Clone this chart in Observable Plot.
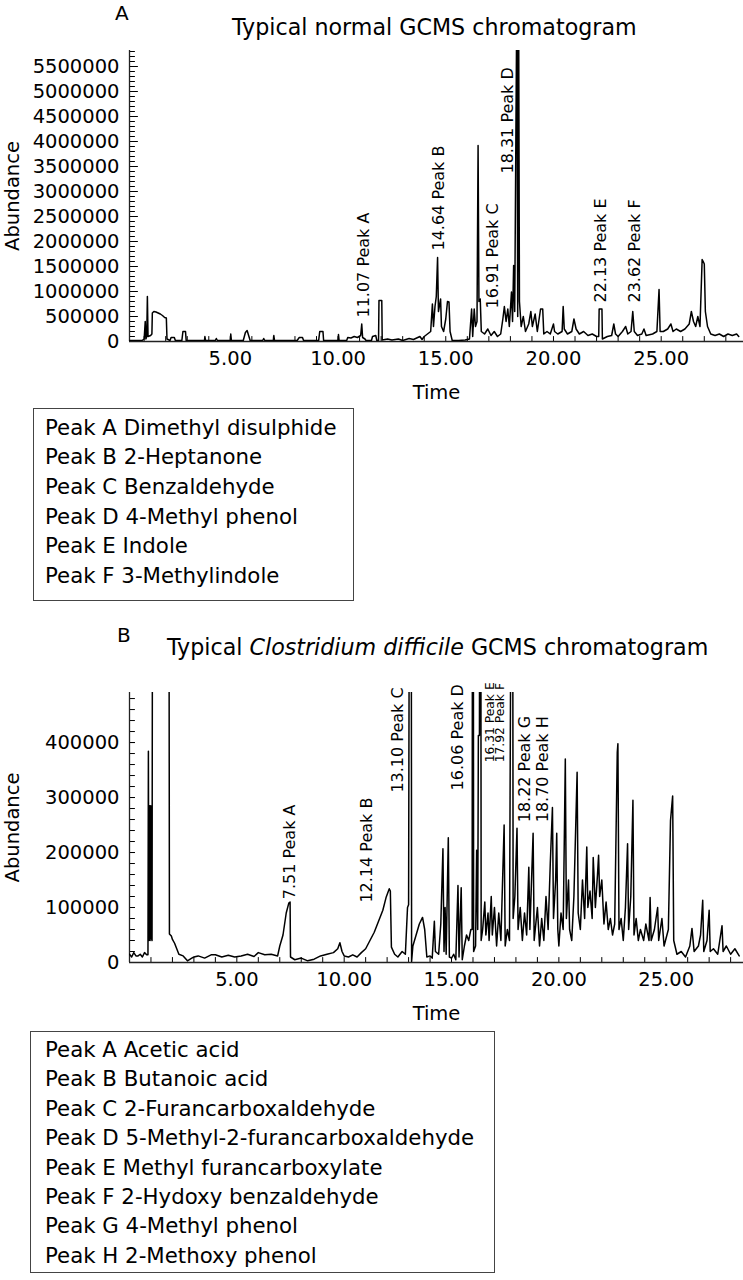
<!DOCTYPE html>
<html><head><meta charset="utf-8">
<script src="https://cdn.jsdelivr.net/npm/d3@7"></script>
<script src="https://cdn.jsdelivr.net/npm/@observablehq/plot@0.6"></script>
<style>
body{margin:0;background:#fff;font-family:"DejaVu Sans",sans-serif;color:#000}
#page{position:relative;width:743px;height:1280px;overflow:hidden}
.abs{position:absolute;white-space:nowrap;line-height:1}
.panel{font-size:20px}
.title{font-size:22.2px}
.legend{position:absolute;border:1.5px solid #444;box-sizing:border-box;font-size:21.3px}
svg{position:absolute;left:0}
</style></head>
<body><div id="page">
<div class="abs panel" style="left:115px;top:3px">A</div>
<div class="abs title" style="left:232px;top:16px">Typical normal GCMS chromatogram</div>
<div id="chartA"></div>
<div class="legend" id="legA" style="left:33px;top:408px;width:321px;height:193px;padding:3.5px 0 0 11px;line-height:29.7px"></div>
<div class="abs panel" style="left:117px;top:625px">B</div>
<div class="abs title" style="left:167px;top:636px">Typical <i>Clostridium difficile</i> GCMS chromatogram</div>
<div id="chartB"></div>
<div class="legend" id="legB" style="left:30px;top:1031px;width:465px;height:242px;padding:3px 0 0 14px;line-height:29.4px"></div>
</div>
<script>
// ---------- Chart A: typical normal GCMS chromatogram ----------
const timeA = [
 0.34,0.9,1.0,1.05,1.08,1.12,1.15,1.18,1.3,1.36,
 1.38,1.45,1.55,1.65,1.75,1.85,1.95,2.03,2.06,2.2,
 2.25,2.4,2.45,2.75,2.8,2.92,2.95,3.8,3.82,3.85,
 4.3,4.35,4.4,5.0,5.02,5.05,5.6,5.7,5.78,5.85,
 5.92,6.5,6.55,6.6,7.0,7.02,7.05,8.1,8.2,8.35,
 8.4,9.1,9.15,9.3,9.33,10.0,10.02,10.05,10.4,10.45,
 10.6,10.75,10.9,11.05,11.1,11.14,11.25,11.3,11.55,11.6,
 11.75,11.8,11.88,11.9,12.03,12.05,12.3,12.5,12.8,13.0,
 13.3,13.5,13.7,13.8,13.9,14.0,14.15,14.3,14.38,14.43,
 14.5,14.56,14.62,14.66,14.76,14.8,14.9,15.0,15.08,15.15,
 15.2,15.3,15.6,15.9,16.1,16.2,16.25,16.32,16.38,16.45,
 16.5,16.54,16.6,16.65,16.8,16.95,17.1,17.25,17.4,17.55,
 17.65,17.72,17.8,17.88,17.95,18.05,18.1,18.15,18.2,18.3,
 18.34,18.38,18.42,18.5,18.6,18.7,18.85,18.95,19.02,19.15,
 19.25,19.4,19.5,19.55,19.7,19.85,20.0,20.05,20.2,20.4,
 20.45,20.5,20.65,20.85,20.95,21.05,21.2,21.4,21.6,21.8,
 22.0,22.1,22.12,22.25,22.27,22.5,22.7,22.8,22.88,23.0,
 23.2,23.35,23.45,23.6,23.68,23.75,23.9,24.1,24.2,24.3,
 24.6,24.8,24.9,24.95,25.1,25.3,25.45,25.55,25.7,25.9,
 26.1,26.3,26.4,26.5,26.6,26.7,26.8,26.9,26.95,27.0,
 27.05,27.15,27.3,27.5,27.7,27.9,28.1,28.3,28.5,28.6
];
const abundanceA = [
 20000,20000,50000,400000,50000,100000,900000,100000,120000,150000,
 570000,600000,590000,570000,550000,520000,480000,470000,50000,20000,
 80000,80000,20000,20000,200000,200000,20000,20000,100000,20000,
 20000,60000,20000,20000,150000,20000,20000,180000,220000,120000,
 20000,20000,60000,20000,20000,120000,20000,20000,80000,80000,
 20000,20000,200000,200000,20000,20000,140000,20000,20000,80000,
 70000,100000,80000,120000,350000,80000,50000,20000,20000,100000,
 120000,20000,20000,820000,820000,30000,50000,30000,50000,20000,
 60000,40000,80000,100000,40000,100000,150000,200000,750000,300000,
 700000,900000,1680000,600000,850000,300000,200000,450000,800000,790000,
 200000,20000,20000,30000,50000,650000,100000,650000,300000,400000,
 3920000,800000,850000,200000,150000,250000,120000,200000,100000,150000,
 450000,700000,400000,650000,300000,990000,400000,1520000,600000,7000000,
 500000,7000000,800000,300000,500000,200000,350000,600000,300000,550000,
 200000,650000,650000,150000,200000,150000,350000,200000,150000,200000,
 700000,250000,150000,200000,450000,250000,150000,200000,120000,150000,
 100000,100000,650000,650000,50000,100000,120000,350000,150000,100000,
 200000,300000,150000,200000,600000,200000,120000,150000,250000,120000,
 150000,200000,1040000,200000,200000,250000,350000,200000,250000,200000,
 250000,350000,600000,400000,300000,500000,300000,1640000,1600000,1550000,
 600000,300000,150000,120000,150000,100000,150000,120000,150000,100000
];
const peakLabelsA = ["11.07 Peak A","14.64 Peak B","16.91 Peak C","18.31 Peak D","22.13 Peak E","23.62 Peak F"];
const peakLabelTimeA = [11.18,14.66,17.17,17.87,22.18,23.8];
const peakLabelLevelA = [480000,1820000,660000,3360000,780000,780000];
const legendA = ["Peak A Dimethyl disulphide","Peak B 2-Heptanone","Peak C Benzaldehyde","Peak D 4-Methyl phenol","Peak E Indole","Peak F 3-Methylindole"];
const xDomainA = [0.32, 28.82];
const yDomainA = [0, 5820000];
const yTickLabelsA = [0,500000,1000000,1500000,2000000,2500000,3000000,3500000,4000000,4500000,5000000,5500000];

// ---------- Chart B: typical Clostridium difficile GCMS chromatogram ----------
const timeB = [
 0.0,0.1,0.2,0.3,0.4,0.5,0.6,0.7,0.8,0.86,
 0.88,0.9,0.93,0.96,0.99,1.02,1.05,1.07,1.84,1.86,
 1.95,2.0,2.1,2.2,2.3,2.5,2.7,2.9,3.0,3.2,
 3.5,3.8,4.0,4.3,4.6,4.9,5.2,5.5,5.8,6.0,
 6.3,6.6,6.9,7.0,7.15,7.3,7.42,7.48,7.5,7.7,
 8.0,8.3,8.6,8.9,9.2,9.5,9.7,9.8,9.9,10.0,
 10.2,10.4,10.6,10.8,11.0,11.2,11.4,11.6,11.8,11.95,
 12.1,12.15,12.2,12.35,12.5,12.7,12.85,12.95,13.0,13.05,
 13.12,13.14,13.2,13.35,13.5,13.65,13.75,13.85,14.0,14.1,
 14.2,14.25,14.4,14.5,14.6,14.65,14.7,14.75,14.85,14.9,
 15.0,15.1,15.2,15.3,15.35,15.45,15.5,15.6,15.7,15.8,
 15.9,15.96,15.98,16.01,16.03,16.12,16.17,16.22,16.25,16.3,
 16.32,16.36,16.38,16.45,16.55,16.6,16.7,16.75,16.85,16.9,
 17.0,17.1,17.2,17.3,17.45,17.5,17.6,17.7,17.8,17.84,
 17.87,17.95,18.05,18.1,18.2,18.3,18.4,18.5,18.6,18.65,
 18.8,18.85,19.0,19.1,19.2,19.3,19.4,19.5,19.6,19.7,
 19.75,19.85,19.9,19.95,20.0,20.1,20.2,20.3,20.35,20.45,
 20.5,20.6,20.7,20.85,20.9,21.0,21.1,21.2,21.3,21.35,
 21.45,21.55,21.6,21.7,21.8,21.85,21.9,22.0,22.1,22.2,
 22.3,22.4,22.5,22.6,22.72,22.75,22.8,22.9,23.0,23.1,
 23.2,23.25,23.35,23.45,23.5,23.6,23.7,23.8,23.95,24.05,
 24.2,24.25,24.3,24.45,24.6,24.65,24.8,24.9,25.1,25.2,
 25.3,25.35,25.5,25.7,25.9,26.1,26.2,26.3,26.5,26.6,
 26.7,26.75,26.9,27.0,27.05,27.2,27.4,27.6,27.65,27.8,
 28.0,28.2,28.4
];
const abundanceB = [
 15000,10000,18000,12000,12000,15000,10000,18000,14000,14000,
 384000,40000,285000,40000,285000,45000,40000,700000,700000,52000,
 48000,42000,35000,25000,15000,12000,3000,8000,10000,12000,
 8000,14000,14000,10000,13000,10000,12000,15000,11000,18000,
 14000,15000,12000,30000,50000,90000,108000,110000,10000,5000,
 8000,3000,6000,12000,15000,18000,25000,36000,20000,12000,
 10000,14000,10000,18000,25000,40000,55000,75000,95000,118000,
 134000,130000,28000,15000,10000,20000,15000,100000,105000,1000000,
 1000000,2000,30000,50000,70000,82000,60000,10000,12000,8000,
 75000,20000,15000,70000,207000,20000,100000,15000,227000,10000,
 8000,15000,5000,140000,10000,136000,5000,30000,50000,40000,
 60000,60000,1000000,1000000,20000,30000,204000,60000,413000,413000,
 1000000,1000000,40000,60000,110000,50000,90000,40000,120000,50000,
 100000,30000,90000,40000,250000,30000,60000,40000,1000000,1000000,
 80000,120000,244000,60000,100000,40000,90000,50000,173000,60000,
 235000,40000,100000,30000,80000,40000,120000,60000,180000,282000,
 80000,150000,235000,60000,30000,90000,60000,370000,80000,150000,
 60000,40000,120000,346000,90000,60000,150000,80000,210000,100000,
 130000,80000,191000,100000,160000,195000,120000,150000,70000,110000,
 60000,80000,50000,70000,382000,398000,60000,80000,40000,100000,
 216000,60000,120000,295000,50000,80000,40000,60000,40000,70000,
 40000,118000,40000,60000,100000,40000,80000,30000,60000,258000,
 303000,40000,15000,20000,10000,30000,62000,20000,30000,50000,
 113000,20000,40000,95000,20000,25000,15000,67000,20000,30000,
 15000,25000,12000
];
const peakLabelsB = ["7.51 Peak A","12.14 Peak B","13.10 Peak C","16.06 Peak D","18.22 Peak G","18.70 Peak H"];
const peakLabelTimeB = [7.47,11.04,12.5,15.3,18.43,19.27];
const peakLabelLevelB = [115000,109000,309000,313000,255000,255000];
const smallLabelsB = ["16.31 Peak E","17.92 Peak F"];
const smallLabelTimeB = [16.8,17.26];
const smallLabelLevelB = [364000,364000];
const legendB = ["Peak A Acetic acid","Peak B Butanoic acid","Peak C 2-Furancarboxaldehyde","Peak D 5-Methyl-2-furancarboxaldehyde","Peak E Methyl furancarboxylate","Peak F 2-Hydoxy benzaldehyde","Peak G 4-Methyl phenol","Peak H 2-Methoxy phenol"];
const xDomainB = [0, 28.6];
const yDomainB = [0, 491000];
const yTickLabelsB = [0,100000,200000,300000,400000];

const xTickLabels = [5,10,15,20,25];

// a tick glyph for Plot.vector: a straight stroke from the anchor point
const tickShape = {draw(context, l) { context.moveTo(0, 0); context.lineTo(0, -l); }};

function chromatogram({times, values, xDomain, yDomain, yMajor, yMinorStep, yMajorTick, labels, small, height, marginTop, marginBottom}) {
  const series = times.map((t, i) => ({t, v: values[i]}));
  const xMinor = d3.range(Math.ceil(xDomain[0]), xDomain[1], 1);
  const yMinor = d3.range(0, yDomain[1], yMinorStep);
  const font = "'DejaVu Sans', sans-serif";
  const marks = [
    Plot.axisX({ticks: xTickLabels, tickSize: 0, tickPadding: 10, tickFormat: d => d.toFixed(2), fontSize: 19.5, fontFamily: font,
      label: "Time", labelAnchor: "center", labelOffset: 57, labelArrow: false}),
    Plot.axisY({ticks: yMajor, tickSize: 0, tickPadding: 10, tickFormat: d => String(d), fontSize: 19.5, fontFamily: font,
      label: "Abundance", labelAnchor: "center", labelOffset: 124, labelArrow: false}),
    // inward ticks along both axes
    Plot.vector(xMinor, {x: d => d, y: 0, length: 5, rotate: 0, anchor: "start", shape: tickShape, stroke: "#000", strokeWidth: 1}),
    Plot.vector(yMinor, {x: xDomain[0], y: d => d, length: 5, rotate: 90, anchor: "start", shape: tickShape, stroke: "#000", strokeWidth: 1}),
    Plot.vector(yMajor, {x: xDomain[0], y: d => d, length: yMajorTick, rotate: 90, anchor: "start", shape: tickShape, stroke: "#000", strokeWidth: 1}),
    Plot.ruleY([0], {stroke: "#222", strokeWidth: 1.3}),
    Plot.ruleX([xDomain[0]], {stroke: "#222", strokeWidth: 1.3}),
    Plot.line(series, {x: "t", y: "v", stroke: "#000", strokeWidth: 1.5, clip: true}),
    Plot.text(labels.text.map((s, i) => ({s, t: labels.time[i], v: labels.level[i]})),
      {x: "t", y: "v", text: "s", rotate: -90, textAnchor: "start", fontSize: 16, fontFamily: font, fill: "#000"})
  ];
  if (small) marks.push(Plot.text(small.text.map((s, i) => ({s, t: small.time[i], v: small.level[i]})),
      {x: "t", y: "v", text: "s", rotate: -90, textAnchor: "start", fontSize: 12.3, fontFamily: font, fill: "#000"}));
  return Plot.plot({
    width: 743, height, marginLeft: 129, marginRight: 0, marginTop, marginBottom,
    x: {domain: xDomain}, y: {domain: yDomain},
    style: {fontFamily: font, fontSize: "20px", color: "#000", background: "transparent", overflow: "visible"},
    marks
  });
}

const svgA = chromatogram({times: timeA, values: abundanceA, xDomain: xDomainA, yDomain: yDomainA,
  yMajor: yTickLabelsA, yMinorStep: 100000, yMajorTick: 8,
  labels: {text: peakLabelsA, time: peakLabelTimeA, level: peakLabelLevelA}, height: 410, marginTop: 50, marginBottom: 69});
svgA.style.top = "0px";
document.getElementById("chartA").appendChild(svgA);

const svgB = chromatogram({times: timeB, values: abundanceB, xDomain: xDomainB, yDomain: yDomainB,
  yMajor: yTickLabelsB, yMinorStep: 20000, yMajorTick: 5,
  labels: {text: peakLabelsB, time: peakLabelTimeB, level: peakLabelLevelB},
  small: {text: smallLabelsB, time: smallLabelTimeB, level: smallLabelLevelB}, height: 390, marginTop: 52, marginBottom: 68});
svgB.style.top = "640px";
document.getElementById("chartB").appendChild(svgB);

document.getElementById("legA").innerHTML = legendA.map(s => `<div>${s}</div>`).join("");
document.getElementById("legB").innerHTML = legendB.map(s => `<div>${s}</div>`).join("");
</script>
</body></html>
